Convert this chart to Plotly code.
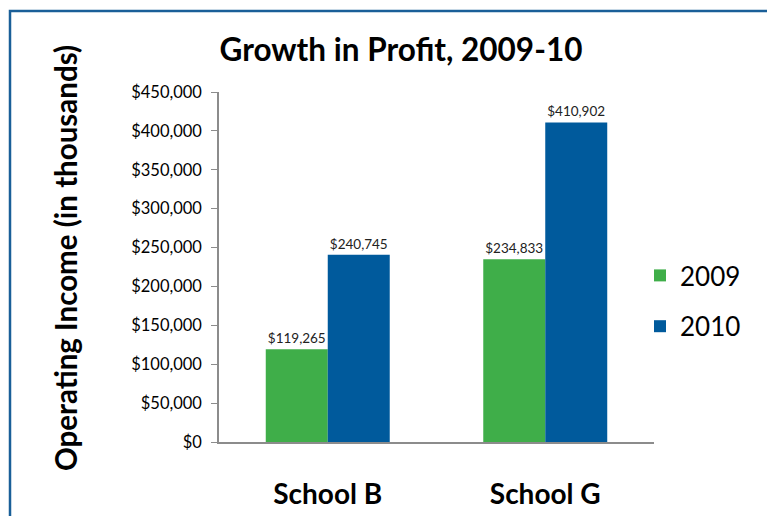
import plotly.graph_objects as go

categories = ["School B", "School G"]
years = ["2009", "2010"]
values_2009 = [119265, 234833]
values_2010 = [240745, 410902]
colors = ["#3fae49", "#005a9c"]
y_ticks = [0, 50000, 100000, 150000, 200000, 250000, 300000, 350000, 400000, 450000]
y_tick_labels = ["$" + format(v, ",") for v in y_ticks]

W, H = 767, 516
L, R, T, B = 219, 654, 92, 442

fig = go.Figure()
for name, vals, col in zip(years, [values_2009, values_2010], colors):
    fig.add_trace(go.Bar(
        x=categories, y=vals, name=name, legendgroup=name,
        marker=dict(color=col, line=dict(width=0)),
        text=["$" + format(v, ",") for v in vals], textposition="outside",
        textfont=dict(size=13.5, color="#222", family="Lato"), cliponaxis=False,
    ))

def px_x(p):
    return (p - L) / (R - L)

def px_y(p):
    return (B - p) / (B - T)

fig.update_layout(
    width=W, height=H,
    margin=dict(l=L, r=W - R, t=T, b=H - B, autoexpand=False),
    paper_bgcolor="white", plot_bgcolor="white",
    barmode="group", bargap=0.43, bargroupgap=0,
    font=dict(family="Lato", color="#000"),
    title=dict(text="<b>Growth in Profit, 2009-10</b>", font=dict(size=31.5, family="Lato", color="#000"),
               xref="paper", x=px_x(401), xanchor="center", yref="container", y=1 - 50 / H, yanchor="middle"),
    showlegend=True,
    legend=dict(x=px_x(640), xanchor="left", y=px_y(301), yanchor="middle",
                font=dict(size=26, family="Lato", color="#000"), itemwidth=30, tracegroupgap=14,
                bgcolor="rgba(0,0,0,0)"),
    xaxis=dict(showline=True, linecolor="#8c8c8c", linewidth=1.5, ticks="", showgrid=False,
               tickfont=dict(size=28, family="Lato", color="#000"), ticklabelstandoff=27,
               tickprefix="<b>", ticksuffix="</b>"),
    yaxis=dict(range=[0, 450000], tickvals=y_ticks, ticktext=y_tick_labels, showline=True,
               linecolor="#8c8c8c", linewidth=1.5, ticks="outside", ticklen=6, tickcolor="#8c8c8c",
               ticklabelstandoff=6,
               showgrid=False, zeroline=False, tickfont=dict(size=16.5, family="Lato", color="#000")),
    annotations=[dict(text="<b>Operating Income (in thousands)</b>", textangle=-90, xref="paper", yref="paper",
                      x=px_x(65), y=px_y(258), xanchor="center", yanchor="middle", showarrow=False,
                      font=dict(size=29.5, family="Lato", color="#000"))],
    shapes=[dict(type="path", xref="paper", yref="paper",
                 path=f"M {px_x(10)},{px_y(530)} L {px_x(10)},{px_y(11)} L {px_x(780)},{px_y(11)}",
                 line=dict(color="#1a5f98", width=2.5))],
)

fig.write_html("out.html", config={"displayModeBar": False},
               post_script="document.body.style.margin='0';document.body.style.overflow='hidden';")
